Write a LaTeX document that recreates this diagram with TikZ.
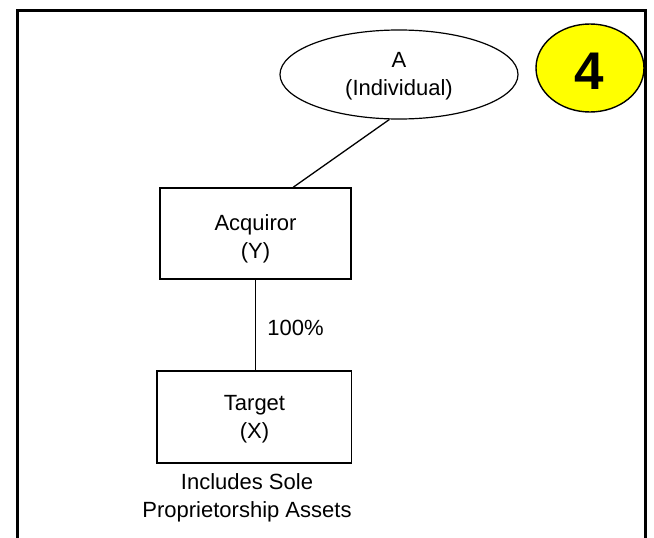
\documentclass[tikz,border=0pt]{standalone}
\usepackage{fontspec}
\setmainfont{Liberation Sans}
\usetikzlibrary{shapes.geometric,calc}
\begin{document}
\begin{tikzpicture}[x=1pt,y=-1pt,
  txt/.style={font=\fontsize{22}{28}\selectfont, inner sep=0pt, align=center},
  entbox/.style={draw, line width=1.5pt, rectangle, inner sep=0pt},
  conn/.style={draw, line width=1.3pt}]
\useasboundingbox (0,0) rectangle (654,538);
% frame
\draw[line width=2.7pt] (17.3,540) -- (17.3,10.3) -- (645.7,10.3) -- (645.7,540);
% shapes
\node[ellipse, draw, line width=1.2pt, inner sep=0pt, minimum width=238pt, minimum height=89pt] (A) at (399,74.5) {};
\node[ellipse, draw, line width=1.4pt, fill={rgb,255:red,255;green,255;blue,0}, inner sep=0pt, minimum width=108pt, minimum height=88pt] (badge) at (590,68) {};
\node[entbox, minimum width=191pt, minimum height=91pt] (Y) at (255.5,233.5) {};
\node[entbox, minimum width=194.5pt, minimum height=92pt] (X) at (254.25,417) {};
% texts (base anchor = baseline of last line)
\node[txt, anchor=base] (tA) at (399,95) {A\\(Individual)};
\node[txt, anchor=base] (tY) at (255.5,258) {Acquiror\\(Y)};
\node[txt, anchor=base] (tX) at (254.5,438) {Target\\(X)};
\node[txt, anchor=base] (pct) at (295.5,335) {100\%};
\node[txt, anchor=base] (note) at (247,517) {Includes Sole\\Proprietorship Assets};
\node[inner sep=0pt, font=\fontsize{53}{60}\selectfont\bfseries] (four) at (589,71) {4};
% connectors
\draw[conn] (A.258) -- ($(Y.north west)!0.696!(Y.north east)$);
\draw[conn] (Y.south) -- (Y.south |- X.north);
\end{tikzpicture}
\end{document}
